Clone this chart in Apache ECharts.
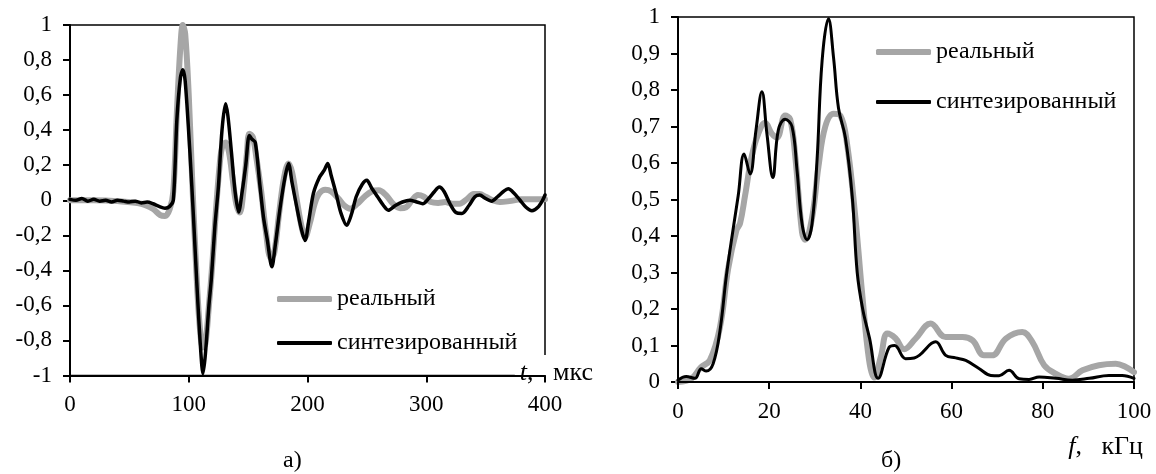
<!DOCTYPE html>
<html lang="ru" style="height: 100%">

<head>
  <meta charset="utf-8">
  <style>
    html,
    body {
      margin: 0;
      padding: 0;
      width: 100%;
      height: 100%;
      overflow: hidden;
      background: #fff;
    }
  </style>
</head>

<body>
  <div id="container" style="height: 474px;width: 1156px;"></div>

  <script type="text/javascript" src="https://cdn.jsdelivr.net/npm/echarts@6/dist/echarts.min.js"></script>
  <script type="text/javascript">

    var dom = document.getElementById('container');
    var myChart = echarts.init(dom, null, { renderer: 'canvas' });

    var font = 'Liberation Serif';
    var grey = '#a6a6a6';
    var legendNames = ['реальный', 'синтезированный'];

    // а) сигнал во времени, t (мкс)
    var tReal = [0, 20, 40, 60, 70, 76, 80, 84, 87, 90, 93, 95, 97, 100, 103, 106, 109, 112, 114, 117, 120, 123, 126, 128, 131, 134, 137, 140, 143, 146, 149, 151, 154, 157, 161, 165, 169, 172, 176, 180, 184, 187, 191, 195, 198, 202, 206, 210, 215, 220, 226, 231, 236, 242, 248, 254, 260, 266, 272, 278, 283, 288, 293, 298, 304, 310, 316, 322, 328, 334, 340, 345, 350, 356, 362, 370, 380, 390, 400];
    var vReal = [0, 0, -0.005, -0.02, -0.05, -0.085, -0.09, -0.05, 0.05, 0.5, 0.88, 1.0, 0.95, 0.6, 0.1, -0.35, -0.7, -0.84, -0.82, -0.6, -0.35, -0.05, 0.2, 0.3, 0.33, 0.27, 0.12, -0.02, -0.07, 0.05, 0.27, 0.38, 0.36, 0.24, 0.05, -0.18, -0.33, -0.3, -0.08, 0.12, 0.21, 0.16, 0, -0.15, -0.21, -0.13, -0.02, 0.04, 0.06, 0.05, 0.01, -0.03, -0.048, -0.02, 0.02, 0.05, 0.057, 0.03, -0.02, -0.045, -0.04, 0, 0.03, 0.02, -0.01, -0.015, -0.01, -0.02, -0.02, 0.005, 0.035, 0.035, 0.02, 0, -0.01, -0.005, 0.005, 0.005, 0.005];

    var tSynth = [0, 5, 10, 15, 20, 25, 30, 35, 40, 45, 50, 55, 60, 65, 70, 75, 80, 84, 87, 90, 93, 95, 97, 101, 104, 107, 110, 112, 114, 117, 119, 122, 125, 128, 131, 133, 136, 139, 142, 145, 148, 151, 153, 156, 160, 163, 166, 170, 173, 177, 181, 184, 187, 191, 195, 198, 201, 205, 210, 214, 217, 220, 224, 228, 233, 237, 241, 246, 250, 254, 259, 264, 268, 274, 280, 286, 292, 297, 302, 307, 311, 315, 320, 325, 330, 336, 341, 345, 350, 355, 360, 365, 369, 374, 379, 384, 389, 394, 398, 400];
    var vSynth = [0.005, 0, 0.01, -0.005, 0.005, -0.005, 0, -0.01, 0, -0.005, -0.01, -0.005, -0.015, -0.01, -0.02, -0.035, -0.045, -0.035, 0, 0.46, 0.7, 0.745, 0.68, 0.27, -0.1, -0.5, -0.85, -0.99, -0.88, -0.6, -0.45, -0.15, 0.08, 0.4, 0.55, 0.48, 0.27, 0.05, -0.067, 0.05, 0.2, 0.37, 0.35, 0.33, 0.08, -0.1, -0.22, -0.38, -0.25, -0.04, 0.13, 0.21, 0.1, -0.04, -0.17, -0.23, -0.12, 0.04, 0.13, 0.17, 0.21, 0.14, 0.04, -0.07, -0.143, -0.08, 0.02, 0.09, 0.114, 0.07, 0.02, -0.03, -0.057, -0.03, -0.01, 0, -0.01, -0.02, 0.01, 0.05, 0.075, 0.05, -0.02, -0.07, -0.075, -0.03, 0.02, 0.03, 0.01, -0.005, 0.02, 0.05, 0.065, 0.04, 0, -0.04, -0.06, -0.04, 0, 0.03];

    // б) спектр, f (кГц)
    var fReal = [0, 3, 5, 7, 9.2, 11, 12.8, 13.6, 14.7, 16.2, 17.6, 19.1, 20.6, 21.7, 23.5, 24.6, 25.7, 27.2, 27.9, 29.4, 30.8, 32.3, 34.1, 35.6, 37.1, 38.9, 40.4, 41.9, 43, 44.5, 45.9, 47.7, 49.6, 52.1, 55.4, 58.7, 62.4, 64.6, 67.1, 68.9, 71.9, 75.5, 77.7, 80.3, 82.8, 85.7, 88.7, 92.3, 96, 98.2, 100];
    var aReal = [0, 0.01, 0.04, 0.06, 0.15, 0.31, 0.415, 0.434, 0.51, 0.62, 0.68, 0.71, 0.68, 0.67, 0.73, 0.72, 0.62, 0.41, 0.39, 0.45, 0.59, 0.7, 0.735, 0.73, 0.65, 0.45, 0.24, 0.06, 0.012, 0.07, 0.133, 0.12, 0.09, 0.119, 0.16, 0.123, 0.123, 0.114, 0.073, 0.073, 0.119, 0.137, 0.11, 0.046, 0.023, 0.009, 0.032, 0.046, 0.05, 0.041, 0.027];

    var fSynth = [0, 1.8, 3.7, 5.1, 6.2, 7.7, 9.2, 10.6, 12.1, 13.2, 14.5, 15.8, 17.1, 18.4, 19.5, 20.8, 22, 23.5, 25, 26.1, 27.2, 28.3, 29.4, 30.5, 31.6, 33, 34.1, 35.2, 36.7, 38.2, 39.3, 40.5, 42, 43.9, 46.3, 47.5, 49.9, 51.8, 52.9, 56.5, 58.7, 60.9, 63.1, 66, 68.6, 70.4, 72.6, 74.8, 77, 79.2, 82.9, 86.5, 90.2, 94.5, 97.4, 100];
    var aSynth = [0.005, 0.015, 0.01, 0.036, 0.03, 0.05, 0.14, 0.29, 0.42, 0.51, 0.625, 0.57, 0.69, 0.795, 0.68, 0.56, 0.69, 0.72, 0.7, 0.58, 0.434, 0.39, 0.434, 0.61, 0.88, 0.995, 0.89, 0.75, 0.67, 0.51, 0.3, 0.2, 0.12, 0.01, 0.095, 0.1, 0.064, 0.066, 0.073, 0.11, 0.073, 0.066, 0.059, 0.037, 0.018, 0.017, 0.032, 0.009, 0.007, 0.014, 0.01, 0.005, 0.01, 0.018, 0.018, 0.01];

    const zip = (xs, ys) => xs.map((x, i) => [x, ys[i]]);
    const comma = v => String(Math.round(v * 10) / 10).replace('.', ',');

    const tickTxt = { fontFamily: font, fontSize: 23, color: '#000' };
    const txt = { fontFamily: font, fontSize: 24, color: '#000' };
    const nameTxt = { fontFamily: font, fontSize: 26, color: '#000' };
    const italic = { fontFamily: font, fontSize: 26, fontStyle: 'italic', color: '#000' };

    function valueAxis(gridIndex, min, max, interval, formatter, extra) {
      return Object.assign({
        type: 'value',
        gridIndex: gridIndex,
        min: min,
        max: max,
        interval: interval,
        axisLine: { show: true, onZero: false, lineStyle: { color: '#000', width: 2 } },
        axisTick: { show: true, inside: false, length: 7, lineStyle: { color: '#000', width: 2 } },
        axisLabel: Object.assign({ margin: 18, formatter: formatter }, tickTxt),
        splitLine: { show: false }
      }, extra || {});
    }

    // одна запись легенды = один legend-компонент, чтобы точно расставить строки
    function legendItem(name, left, top, h) {
      return {
        data: [name],
        left: left,
        top: top,
        padding: 0,
        icon: 'roundRect',
        itemWidth: 55,
        itemHeight: h,
        selectedMode: false,
        textStyle: txt
      };
    }

    function lineSeries(name, xi, data, color, width, smooth) {
      return {
        name: name,
        type: 'line',
        xAxisIndex: xi,
        yAxisIndex: xi,
        data: data,
        showSymbol: false,
        symbol: 'none',
        smooth: smooth,
        lineStyle: { color: color, width: width, cap: 'round', join: 'round' },
        itemStyle: { color: color },
        z: name === legendNames[1] ? 3 : 2
      };
    }

    var option = {
      animation: false,
      backgroundColor: '#fff',
      title: [
        { text: 'а)', left: 283, top: 449, padding: 0, textStyle: Object.assign({ fontWeight: 'normal' }, txt) },
        { text: 'б)', left: 881, top: 449, padding: 0, textStyle: Object.assign({ fontWeight: 'normal' }, txt) }
      ],
      legend: [
        legendItem(legendNames[0], 277, 287, 6),
        legendItem(legendNames[1], 277, 331, 4),
        legendItem(legendNames[0], 876, 40, 6),
        legendItem(legendNames[1], 876, 90, 4)
      ],
      grid: [
        { left: 70, right: 611, top: 25, bottom: 98.5, show: true, borderColor: '#000', borderWidth: 1.5 },
        { left: 678, right: 22, top: 17, bottom: 92, show: true, borderColor: '#000', borderWidth: 1.5 }
      ],
      xAxis: [
        valueAxis(0, 0, 400, 100, null, {
          z: 5,
          name: '{it|t},   мкс',
          nameLocation: 'end',
          nameGap: 48,
          nameMoveOverlap: false,
          nameTextStyle: Object.assign({
            align: 'right',
            verticalAlign: 'middle',
            backgroundColor: '#fff',
            padding: [5, 0, 10, 5],
            rich: { it: italic }
          }, nameTxt)
        }),
        valueAxis(1, 0, 100, 20, null, {
          z: 5,
          name: '{it|f},   кГц',
          nameLocation: 'end',
          nameGap: 9,
          nameMoveOverlap: false,
          nameTextStyle: Object.assign({
            align: 'right',
            verticalAlign: 'top',
            padding: [52, 0, 0, 0],
            rich: { it: italic }
          }, nameTxt)
        })
      ],
      yAxis: [
        valueAxis(0, -1, 1, 0.2, comma),
        valueAxis(1, 0, 1, 0.1, comma)
      ],
      series: [
        lineSeries(legendNames[0], 0, zip(tReal, vReal), grey, 6, 0.35),
        lineSeries(legendNames[1], 0, zip(tSynth, vSynth), '#000', 3.5, 0.3),
        lineSeries(legendNames[0], 1, zip(fReal, aReal), grey, 6, 0.4),
        lineSeries(legendNames[1], 1, zip(fSynth, aSynth), '#000', 3, 0.4)
      ]
    };

    myChart.setOption(option);
    window.addEventListener('resize', myChart.resize);

  </script>
</body>

</html>
